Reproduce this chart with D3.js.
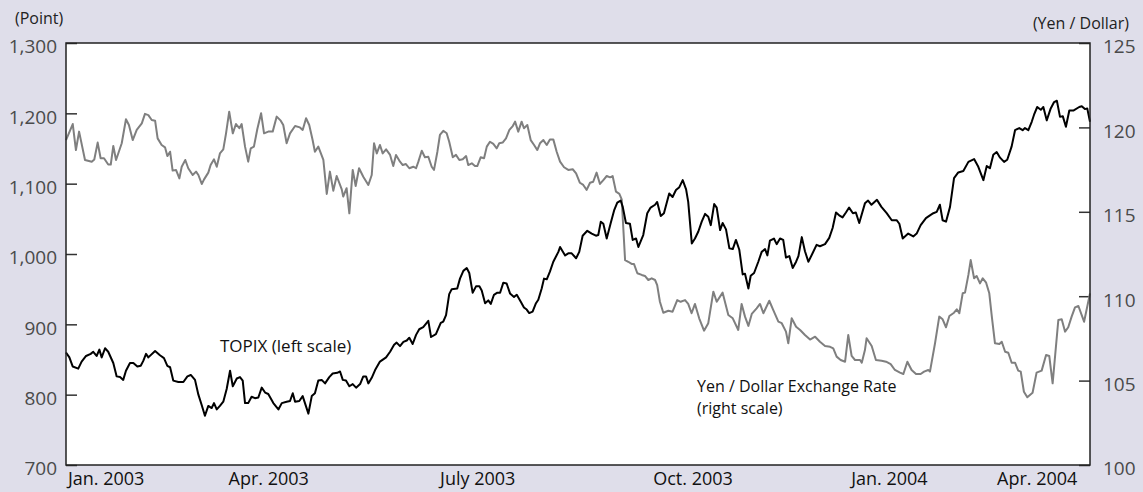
<!DOCTYPE html>
<html>
<head>
<meta charset="utf-8">
<script src="https://cdn.jsdelivr.net/npm/d3@7"></script>
<style>
  body { margin: 0; background: #dfdeea; }
  text { font-family: "Open Sans", "Noto Sans", sans-serif; }
</style>
</head>
<body>
<div id="chart"></div>
<script>
// days since 1 Jan 2003 for every reading, then the reading itself
var topixDays = [0,1.6,3.2,5.8,7.4,9.5,11.7,12.9,14.5,15.8,16.9,18.5,20,22.4,24,25.6,27.1,28.4,30.3,31.9,33.8,35.4,36.6,37.9,39,42.2,44.5,46.4,48,49.3,50.8,53.2,55.6,57.5,59.1,61.1,62.7,64.3,65.8,67.4,69,70.1,71.4,72.9,74.5,76.1,77.7,79,80.9,82.4,83.7,84.8,86.3,87.9,89.5,91.1,92.7,94.3,95.8,98.2,100.6,102.2,104.5,106.1,107.4,108.5,110.5,112.1,114.8,116.4,117.9,119.5,121.1,122.7,124.7,126.3,128.5,129.8,131.1,132.6,134.2,135.8,137.4,139.3,140.8,142.1,143.2,144.8,146.4,148.7,151.6,153.5,155.4,156.6,158.2,159.8,161.4,162.6,164.2,165.8,167.3,169.2,171.6,172.9,175.2,177.5,178.7,180,181.5,182.7,185.3,186.6,188.2,189.8,191,192.6,194.2,195.8,196.9,198.5,200,201.2,202.7,204.3,205.6,207.1,208.7,210.3,212.2,213.5,215.4,216.9,218.2,219.4,221,222.6,223.7,225.3,226.4,227.7,229.2,230.8,233.2,234,236.4,237.9,239.5,241.6,243.1,244.7,246.9,249,251,252.1,253.3,254.5,256.1,258,259.6,261.1,262.7,263.7,265.2,267.1,268.4,270,271.1,273.4,275.3,276.9,279,280,281.7,283.2,285.7,287.3,288.9,290.5,292.1,293.7,294.7,296.4,297.9,299.5,301.1,302.7,304.2,305.4,307,308.2,309.8,311,312.6,314.2,315.8,317.3,318.9,320.5,321.6,323.2,324.3,325.9,327.9,329.5,331.1,332.2,333.4,335.3,336.6,338.2,339.7,341,342.6,344.2,345.8,346.9,348.5,350,351.6,353.6,355.5,357.1,359.5,361.5,363.1,364.7,366.2,367.8,369.4,370.9,372.7,374.1,375.7,378.4,379.9,381.5,384.1,386.2,388.7,391.1,393.4,394.7,396.3,398.9,401.3,402.9,404.8,407.3,409.2,410.8,412.4,413.9,415.2,416.8,418.7,420.6,422.6,425,427.4,430.1,432.1,434.5,436.1,437.6,439.2,440.8,442.4,444.3,445.8,447.9,449.5,451.5,453.1,454.2,455.8,457.4,458.5,460,461.7,462.9,464.5,466.4,468,469.3,470.8,472.1,473.6,475.2,477.1,479.9,481.1,482.6,483.7,485];
var topixValues = [860,853,840,837,847,855,858,861,855,864,853,866,861,845,826,825,821,834,845,845,840,841,848,858,853,862,856,852,841,839,820,818,818,826,828,821,800,785,770,784,781,788,779,784,790,808,834,812,823,825,820,788,788,797,795,796,810,803,801,788,779,788,790,791,802,790,791,798,773,798,802,820,821,816,825,830,831,833,821,820,812,815,810,815,826,826,816,824,835,847,853,861,871,874,869,875,877,881,872,885,893,896,905,882,886,902,904,913,943,950,951,965,976,980,973,945,954,954,948,930,934,929,942,945,945,959,958,944,939,942,932,924,921,916,918,930,935,951,965,964,975,989,1003,1010,998,1001,1001,994,1003,1026,1033,1029,1026,1027,1046,1043,1022,1044,1062,1073,1076,1067,1044,1043,1020,1022,1010,1027,1058,1066,1070,1074,1054,1058,1086,1081,1091,1095,1105,1092,1074,1015,1022,1032,1046,1057,1053,1041,1071,1066,1034,1044,1035,1008,1007,1020,1006,971,972,951,969,973,989,1003,1007,998,1019,1022,1014,1022,1020,995,997,980,989,997,1024,1004,989,1001,1013,1011,1014,1023,1037,1059,1055,1052,1059,1066,1058,1059,1044,1072,1076,1070,1077,1067,1058,1048,1048,1043,1022,1029,1025,1029,1041,1051,1055,1058,1060,1070,1048,1046,1067,1108,1116,1118,1131,1135,1124,1105,1125,1122,1141,1145,1137,1131,1134,1153,1176,1179,1176,1179,1176,1188,1198,1209,1205,1209,1190,1207,1216,1218,1195,1196,1181,1204,1204,1209,1210,1206,1207,1188];

var yenDays = [0,3.2,4.7,6.2,9,12.2,13.4,15,16.4,18,20,21.2,22.4,23.7,26.4,28.4,29.8,31.6,33.5,35.9,37.4,39,40.6,42.2,43.4,45.3,46.9,48,49.3,50.5,52.1,53.7,54.8,56.5,57.9,60,61.6,62.7,64.3,65.4,67.4,68.5,70.1,71.4,72.9,74.5,75.8,77.3,79,80.5,82.1,83.2,84.8,86.3,87.5,89,90.6,92.4,93.8,95.8,97.9,99.8,101.7,102.9,104.5,106.1,108.5,110.8,112.1,113.7,115.2,116.8,117.9,119.5,121.9,123.5,125,126.6,128.2,130.6,131.3,132.9,134.2,135.8,137.2,138.8,140.8,143.2,144.8,145.9,147.2,148.7,150,151.6,153.5,155,156.3,158.2,159.5,161,162.6,164.5,165.8,166.9,168.5,170,171.6,173.2,174.3,175.9,177.1,178.7,180.3,181.5,183.2,184.7,186.3,187.9,189.5,190.5,192.2,193.7,194.8,196.4,198,199.3,200.8,202.4,204,205.2,206.8,208.4,210,211.6,212.7,214.2,215.8,216.9,218.5,220.1,221.7,223.2,224.5,226.1,227.7,229.2,230.8,232.4,234,235.9,237.9,240,241.6,243.4,245,246.6,248.2,249.7,251.3,252.9,254.5,256.1,257.7,258.9,260.5,262.1,263.2,264.8,266.3,267.9,269,270.6,272.7,274.2,275.8,277.4,279,280,281.3,282.9,285.3,287.3,289.5,291.1,293.2,294.7,296.3,297.9,299.9,302.2,304.2,306.6,308.2,311,313.7,315.8,318.4,320,321.6,323.2,324.8,327.1,328.7,330.3,333.1,335,337.4,339,341,342.1,343.7,345.8,347.7,350,352.4,354.8,357.1,359.5,361.9,363.4,365,366.9,369,370.5,372.1,373.7,376.1,376.9,378.4,379.2,381.6,383.6,386.3,388.4,390.6,392.6,395,396.6,398.5,400.5,402.6,404.8,406.4,408.4,409.2,411.6,413.6,415.2,416.8,418.4,420.6,421.9,423.1,424.7,425.8,427.4,428.5,430.1,431.3,432.9,434.2,435.8,437.3,438.5,440,442.1,443.2,444.8,446.3,447.9,449.5,451,452.2,453.7,455.3,457.8,459.7,462.1,464.2,465.7,467.3,470,471.6,473.2,474.7,476.3,477.9,479.5,482.2,485];
var yenValues = [119.25,120.2,118.66,119.75,118.07,117.97,118.1,119.1,118.17,118.17,117.8,117.8,118.9,118.07,119.06,120.48,120.14,119.25,119.85,120.24,120.8,120.73,120.44,120.4,119.35,118.96,118.82,118.3,118.56,117.44,117.48,116.98,117.67,118.07,117.58,117.18,117.38,117.18,116.65,116.92,117.32,117.77,118.11,117.67,118.46,118.7,119.65,120.93,119.65,120.2,119.95,120.2,118.86,117.97,118.76,118.86,119.89,120.84,119.65,119.75,119.75,120.64,120.4,120.14,119.06,119.65,120.08,120,119.85,120.54,120.14,119.25,118.56,118.86,118.07,116.06,117.38,116.25,117.12,116.33,115.9,116.4,114.91,117.48,116.53,117.58,117.08,116.59,117.18,119.06,118.46,118.96,118.46,118.7,118.37,117.71,118.37,117.97,117.77,117.83,117.58,117.67,117.58,117.97,118.62,118.23,118.26,117.67,117.48,118.56,119.55,119.8,119.65,119.15,118.23,118.37,118.07,118.11,118.3,117.77,117.87,117.71,117.71,118.23,118.17,118.86,119.15,119.02,118.76,119.06,119.1,119.35,119.85,120.08,120.34,119.75,120.34,119.95,120.14,119.25,118.96,118.66,119.06,119.25,118.96,119.29,119.29,118.56,117.97,117.64,117.48,117.52,117.28,116.72,116.59,116.3,116.72,116.78,117.32,116.65,116.88,117.12,117.04,117.12,116.19,116.06,115.74,112.14,112.04,111.91,111.91,111.36,111.26,111.2,110.96,111.06,110.96,110.66,109.67,109.02,109.14,109.08,109.77,109.67,109.77,109.54,108.99,109.54,108.69,107.96,108.4,110.27,109.67,110.21,108.89,108.69,108,109.54,108.79,108.24,108.95,109.28,109.54,108.99,109.73,109.18,108.49,108.4,107.9,107.21,108.69,108.19,108,107.7,107.43,107.6,107.3,107.05,107,106.91,106.42,106.22,106.12,107.7,106.46,106.22,106.22,106.06,106.81,107.51,107.05,106.22,106.18,106.12,105.98,105.63,105.47,105.39,106.12,105.63,105.39,105.39,105.53,105.63,105.53,107.21,108.79,108.63,108.16,108.83,109.02,109.22,108.99,110.17,110.21,111.26,112.14,111.06,111.2,110.76,111.06,110.8,110.17,108.79,107.21,107.17,107.3,106.71,106.65,106.06,106.06,105.59,105.53,104.34,104.01,104.28,105.47,105.59,106.52,106.46,104.84,108.59,108.63,107.9,108.16,108.79,109.34,109.42,108.49,110.17];

// axis ticks and the month labels under the chart
var leftTicks = [700, 800, 900, 1000, 1100, 1200, 1300];
var rightTicks = [100, 105, 110, 115, 120, 125];
var monthLabels = ["Jan. 2003", "Apr. 2003", "July 2003", "Oct. 2003", "Jan. 2004", "Apr. 2004"];
var monthLabelDates = ["2003-01-20", "2003-04-07", "2003-07-15", "2003-10-25", "2004-01-26", "2004-04-05"];

var margin = {top: 43, right: 53, bottom: 27, left: 66},
    width = 1143 - margin.left - margin.right,
    height = 492 - margin.top - margin.bottom;

var start = Date.UTC(2003, 0, 1);
function toDate(d) { return new Date(start + d * 864e5); }

var svg = d3.select("#chart")
  .append("svg")
    .attr("width", width + margin.left + margin.right)
    .attr("height", height + margin.top + margin.bottom);

var g = svg.append("g")
    .attr("transform", "translate(" + margin.left + "," + margin.top + ")");

var x = d3.scaleUtc()
    .domain([new Date(Date.UTC(2003, 0, 1)), new Date(Date.UTC(2004, 3, 30))])
    .range([0, width]);
var yLeft = d3.scaleLinear().domain([700, 1300]).range([height, 0]);
var yRight = d3.scaleLinear().domain([100, 125]).range([height, 0]);

// white plot area
g.append("rect")
    .attr("width", width)
    .attr("height", height)
    .style("fill", "#ffffff");

// left axis: inner ticks, labels outside
var leftAxis = g.append("g")
    .call(d3.axisLeft(yLeft).tickValues(leftTicks).tickSize(-11).tickPadding(9)
      .tickFormat(d3.format(",")));
leftAxis.select(".domain").remove();
leftAxis.selectAll("line").style("stroke", "#333").style("stroke-width", 1.5);
leftAxis.selectAll("text")
    .attr("dy", "0.52em")
    .style("font-size", "19px")
    .style("fill", "#4a4a4a")
    .style("font-family", "'Open Sans', sans-serif");

var rightAxis = g.append("g")
    .attr("transform", "translate(" + width + ",0)")
    .call(d3.axisRight(yRight).tickValues(rightTicks).tickSize(-11).tickPadding(13));
rightAxis.select(".domain").remove();
rightAxis.selectAll("line").style("stroke", "#333").style("stroke-width", 1.5);
rightAxis.selectAll("text")
    .attr("dy", "0.52em")
    .style("font-size", "19px")
    .style("fill", "#4a4a4a")
    .style("font-family", "'Open Sans', sans-serif");

// month labels, no tick marks
g.selectAll(".month")
    .data(monthLabels)
    .enter()
    .append("text")
      .attr("x", function(d, i) { return x(new Date(monthLabelDates[i] + "T00:00:00Z")); })
      .attr("y", height + 20)
      .style("text-anchor", "middle")
      .style("font-size", "18px")
      .style("fill", "#111")
      .text(function(d) { return d; });

// the two series
var yenData = yenDays.map(function(d, i) { return {date: toDate(d), value: yenValues[i]}; });
var topixData = topixDays.map(function(d, i) { return {date: toDate(d), value: topixValues[i]}; });

g.append("path")
    .datum(yenData)
    .attr("d", d3.line()
      .x(function(d) { return x(d.date); })
      .y(function(d) { return yRight(d.value); }))
    .style("fill", "none")
    .style("stroke", "#7f7f7f")
    .style("stroke-width", 2)
    .style("stroke-linejoin", "round");

g.append("path")
    .datum(topixData)
    .attr("d", d3.line()
      .x(function(d) { return x(d.date); })
      .y(function(d) { return yLeft(d.value); }))
    .style("fill", "none")
    .style("stroke", "#000")
    .style("stroke-width", 2)
    .style("stroke-linejoin", "round");

// frame on top
g.append("rect")
    .attr("width", width)
    .attr("height", height)
    .style("fill", "none")
    .style("stroke", "#222")
    .style("stroke-width", 1.5);

// unit labels and series notes
svg.append("text").attr("x", 15).attr("y", 24).text("(Point)").style("font-size", "16px").style("fill", "#222")
svg.append("text").attr("x", 1129).attr("y", 29).text("(Yen / Dollar)").style("font-size", "16px").style("fill", "#222").style("text-anchor", "end")
svg.append("text").attr("x", 220).attr("y", 352).text("TOPIX (left scale)").style("font-size", "17px").style("fill", "#111")
svg.append("text").attr("x", 697).attr("y", 392).text("Yen / Dollar Exchange Rate").style("font-size", "16px").style("fill", "#111")
svg.append("text").attr("x", 697).attr("y", 414).text("(right scale)").style("font-size", "16px").style("fill", "#111")
</script>
</body>
</html>
